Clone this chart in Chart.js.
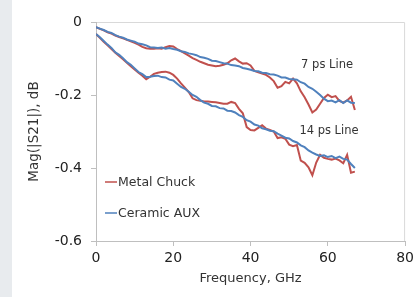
<!DOCTYPE html>
<html>
<head>
<meta charset="utf-8">
<script src="https://cdn.jsdelivr.net/npm/chart.js@4.4.0/dist/chart.umd.min.js"></script>
<style>
  html, body { margin: 0; padding: 0; background: #fff; }
  #wrap { width: 418px; height: 297px; position: relative; }
</style>
</head>
<body>
<div id="wrap"><canvas id="chart" width="418" height="297"></canvas></div>
<script>
// frequency points, GHz
const freq = [0,1,2,3,4,5,6,7,8,9,10,11,12,13,14,15,16,17,18,19,20,21,22,23,24,25,26,27,28,29,30,31,32,33,
  34,35,36,37,38,39,40,41,42,43,44,45,46,47,48,49,50,51,52,53,54,55,56,57,58,59,60,61,62,63,64,65,66,67];

// 7 ps line
const ceramic7 = [-0.014,-0.018,-0.022,-0.027,-0.030,-0.036,-0.040,-0.043,-0.048,-0.051,-0.054,-0.059,-0.061,-0.064,
  -0.069,-0.070,-0.071,-0.070,-0.073,-0.071,-0.074,-0.076,-0.080,-0.082,-0.086,-0.088,-0.091,-0.096,-0.098,-0.101,
  -0.106,-0.107,-0.110,-0.113,-0.114,-0.118,-0.119,-0.121,-0.126,-0.128,-0.131,-0.134,-0.135,-0.139,-0.140,-0.143,
  -0.144,-0.147,-0.152,-0.152,-0.156,-0.157,-0.158,-0.165,-0.169,-0.178,-0.183,-0.191,-0.200,-0.210,-0.217,-0.215,
  -0.220,-0.214,-0.222,-0.215,-0.221,-0.222];
const metal7 = [-0.014,-0.019,-0.023,-0.028,-0.032,-0.037,-0.041,-0.045,-0.049,-0.053,-0.057,-0.062,-0.068,-0.072,
  -0.073,-0.073,-0.072,-0.073,-0.069,-0.066,-0.067,-0.074,-0.080,-0.086,-0.092,-0.099,-0.104,-0.109,-0.113,-0.117,
  -0.119,-0.121,-0.120,-0.117,-0.113,-0.105,-0.100,-0.108,-0.114,-0.113,-0.119,-0.134,-0.138,-0.141,-0.145,-0.152,
  -0.162,-0.180,-0.176,-0.164,-0.168,-0.155,-0.168,-0.190,-0.206,-0.226,-0.248,-0.240,-0.224,-0.208,-0.199,-0.206,
  -0.203,-0.216,-0.221,-0.215,-0.205,-0.241];

// 14 ps line
const ceramic14 = [-0.033,-0.042,-0.052,-0.062,-0.071,-0.083,-0.090,-0.099,-0.110,-0.117,-0.127,-0.137,-0.143,-0.151,
  -0.150,-0.148,-0.147,-0.151,-0.152,-0.158,-0.160,-0.169,-0.178,-0.183,-0.191,-0.200,-0.205,-0.214,-0.221,-0.224,
  -0.230,-0.231,-0.236,-0.237,-0.243,-0.244,-0.248,-0.255,-0.260,-0.269,-0.273,-0.281,-0.284,-0.291,-0.294,-0.298,
  -0.299,-0.306,-0.311,-0.317,-0.319,-0.326,-0.330,-0.338,-0.343,-0.352,-0.358,-0.363,-0.367,-0.365,-0.370,-0.367,
  -0.373,-0.369,-0.375,-0.377,-0.389,-0.400];
const metal14 = [-0.033,-0.043,-0.054,-0.064,-0.074,-0.084,-0.093,-0.102,-0.112,-0.121,-0.130,-0.139,-0.147,-0.157,
  -0.150,-0.142,-0.139,-0.137,-0.136,-0.139,-0.145,-0.155,-0.168,-0.180,-0.192,-0.209,-0.214,-0.216,-0.218,-0.218,
  -0.219,-0.220,-0.222,-0.224,-0.224,-0.219,-0.222,-0.238,-0.250,-0.288,-0.296,-0.297,-0.290,-0.283,-0.292,-0.296,
  -0.300,-0.318,-0.316,-0.320,-0.336,-0.340,-0.337,-0.380,-0.386,-0.398,-0.420,-0.385,-0.364,-0.372,-0.375,-0.377,
  -0.374,-0.379,-0.387,-0.364,-0.413,-0.410];

const xTicks = [0, 20, 40, 60, 80];
const yTicks = [0, -0.2, -0.4, -0.6];
const legendNames = ["Metal Chuck", "Ceramic AUX"];
const lineNotes = [
  { text: "7 ps Line", x: 59.8, y: -0.118 },
  { text: "14 ps Line", x: 60.3, y: -0.299 }
];

const RED = "#c0504d";
const BLUE = "#4f81bd";
const FONT = "DejaVu Sans";

function pts(ys) {
  return freq.map(function (f, i) { return { x: f, y: ys[i] }; });
}

function series(ys, color) {
  return {
    data: pts(ys),
    borderColor: color,
    borderWidth: 2,
    pointRadius: 0,
    tension: 0,
    fill: false
  };
}

const extras = {
  id: "extras",
  beforeDraw(chart) {
    const ctx = chart.ctx;
    ctx.save();
    ctx.fillStyle = "#e8ebee";
    ctx.fillRect(0, 0, 12, chart.height);
    const a = chart.chartArea;
    ctx.strokeStyle = "#d9d9d9";
    ctx.lineWidth = 1;
    ctx.beginPath();
    ctx.moveTo(a.left, a.top + 0.5);
    ctx.lineTo(a.right - 0.5, a.top + 0.5);
    ctx.lineTo(a.right - 0.5, a.bottom);
    ctx.stroke();
    ctx.restore();
  },
  afterDatasetsDraw(chart) {
    const ctx = chart.ctx;
    const a = chart.chartArea;
    const sx = chart.scales.x, sy = chart.scales.y;
    ctx.save();
    ctx.fillStyle = "#333";
    ctx.textBaseline = "middle";
    ctx.textAlign = "center";
    ctx.font = "11.5px '" + FONT + "'";
    lineNotes.forEach(function (n) {
      ctx.fillText(n.text, sx.getPixelForValue(n.x), sy.getPixelForValue(n.y));
    });
    // legend inside the plot
    const cols = [RED, BLUE];
    const rows = [182, 213];
    ctx.textAlign = "left";
    ctx.font = "12.5px '" + FONT + "'";
    for (let i = 0; i < legendNames.length; i++) {
      ctx.strokeStyle = cols[i];
      ctx.lineWidth = 1.5;
      ctx.beginPath();
      ctx.moveTo(a.left + 9, rows[i]);
      ctx.lineTo(a.left + 21, rows[i]);
      ctx.stroke();
      ctx.fillStyle = "#333";
      ctx.fillText(legendNames[i], a.left + 22, rows[i] + 1);
    }
    ctx.restore();
  }
};

new Chart(document.getElementById("chart"), {
  type: "line",
  data: {
    datasets: [
      series(ceramic7, BLUE),
      series(ceramic14, BLUE),
      series(metal7, RED),
      series(metal14, RED)
    ]
  },
  options: {
    responsive: false,
    animation: false,
    layout: { padding: { left: 0, top: 22, right: 9, bottom: 0 } },
    plugins: { legend: { display: false }, tooltip: { enabled: false } },
    scales: {
      x: {
        type: "linear",
        min: 0,
        max: 80,
        afterBuildTicks(s) { s.ticks = xTicks.map(function (v) { return { value: v }; }); },
        afterFit(s) { s.height = 56; },
        ticks: { color: "#222", font: { family: FONT, size: 14 }, padding: 4, maxRotation: 0 },
        grid: { drawOnChartArea: false, color: "#bfbfbf", tickLength: 5 },
        border: { color: "#bfbfbf" },
        title: { display: true, text: "Frequency, GHz", color: "#333", font: { family: FONT, size: 13 }, padding: { top: 0, bottom: 11 } }
      },
      y: {
        type: "linear",
        min: -0.6,
        max: 0,
        afterBuildTicks(s) { s.ticks = yTicks.map(function (v) { return { value: v }; }); },
        afterFit(s) { s.width = 96; },
        ticks: { color: "#222", font: { family: FONT, size: 14 }, padding: 9, callback: function (v) { return String(v); } },
        grid: { drawOnChartArea: false, color: "#bfbfbf", tickLength: 5 },
        border: { color: "#bfbfbf" },
        title: { display: true, text: "Mag(|S21|), dB", color: "#333", font: { family: FONT, size: 13.5 }, padding: { top: 26, bottom: 0 } }
      }
    }
  },
  plugins: [extras]
});
</script>
</body>
</html>
